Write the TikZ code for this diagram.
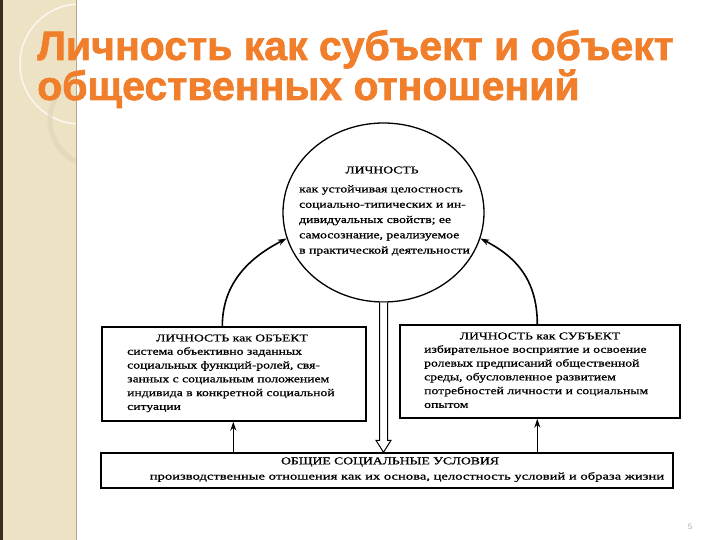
\documentclass[tikz,border=0pt]{standalone}
\usepackage{fontspec}
\usepackage{graphicx}
\setmainfont{Liberation Serif}
\newfontfamily\titlefont{Liberation Sans}[BoldFeatures={FakeBold=1.6}]
\newfontfamily\scan{Liberation Serif}[FakeStretch=1.3,FakeBold=0.9]
\newfontfamily\pagefont{Liberation Sans}
\usetikzlibrary{shapes.geometric,arrows.meta,calc}
\definecolor{titleor}{HTML}{F07E2A}
\definecolor{side}{HTML}{EDE2C3}
\definecolor{sideline}{HTML}{B5A58A}
\definecolor{darkedge}{HTML}{3A2C1E}
\tikzset{
  titletext/.style={font=\titlefont\bfseries\fontsize{41}{44}\selectfont, text=titleor, inner sep=0, anchor=base west},
  box/.style={draw, line width=1.4pt, inner sep=0},
  txt/.style={font=\scan\fontsize{10.5}{13.8}\selectfont, inner sep=0, align=left},
  conn/.style={line width=1.6pt, -{Stealth[length=9pt,width=6pt]}}
}
\begin{document}
\begin{tikzpicture}[x=1pt,y=-1pt]
\useasboundingbox (0,0) rectangle (720,540);
\fill[white] (0,0) rectangle (720,540);
% side band
\fill[side] (0,0) rectangle (76,540);
\begin{scope}
  \clip (0,0) rectangle (76,540);
  \draw[white!75!side, line width=1.5pt] (80,64) circle (60);
  \draw[side!85!gray, line width=5pt, opacity=0.6] (96,120) circle (46);
\end{scope}
\draw[sideline, line width=1pt] (76.5,0) -- (76.5,540);
\fill[darkedge] (0,0) rectangle (2.5,540);
% title
\node[titletext] (t1) at (37,60) {Личность как субъект и объект};
\node[titletext] (t2) at (37,100) {общественных отношений};
% circle
\node[draw, ellipse, line width=1.3pt, minimum width=201pt, minimum height=179pt, inner sep=0] (pers) at (383.5,212.5) {};
\node[txt] (ph) at (382,170) {ЛИЧНОСТЬ};
\node[txt, anchor=north west, font=\scan\fontsize{10.5}{15.3}\selectfont] (pb) at (299,185) {как устойчивая целостность\\социально-типических и ин-\\дивидуальных свойств; ее\\самосознание, реализуемое\\в практической деятельности};
% boxes
\node[box, minimum width=264pt, minimum height=94pt] (obj) at (234,374) {};
\node[box, minimum width=280pt, minimum height=93pt] (subj) at (540,371.5) {};
\node[box, minimum width=572pt, minimum height=35pt] (cond) at (387,470.5) {};
\node[txt] (oh) at (232,338) {ЛИЧНОСТЬ как ОБЪЕКТ};
\node[txt, anchor=north west] (ob) at (127,347) {система объективно заданных\\социальных функций-ролей, свя-\\занных с социальным положением\\индивида в конкретной социальной\\ситуации};
\node[txt] (sh) at (540,336) {ЛИЧНОСТЬ как СУБЪЕКТ};
\node[txt, anchor=north west] (sb) at (424,345) {избирательное восприятие и освоение\\ролевых предписаний общественной\\среды, обусловленное развитием\\потребностей личности и социальным\\опытом};
\node[txt] (ch) at (390,462) {ОБЩИЕ СОЦИАЛЬНЫЕ УСЛОВИЯ};
\node[txt] (cb) at (407,477) {\scalebox{1.07}[1]{производственные отношения как их основа, целостность условий и образа жизни}};
% arcs into the circle
\draw[conn] ($(obj.north west)+(121,0)$) .. controls +(0,-45) and +(-35,18) .. (pers.195);
\draw[conn] ($(subj.north west)+(138,0)$) .. controls +(0,-45) and +(35,18) .. (pers.345);
% up arrows
\coordinate (lup) at ($(cond.north west)+(133,0)$);
\coordinate (rup) at ($(cond.north west)+(437,0)$);
\draw[conn] (lup) -- (lup |- obj.south);
\draw[conn] (rup) -- (rup |- subj.south);
% hollow arrow down
\coordinate (ht) at (pers.south |- cond.north);
\draw[line width=1pt, fill=white] ($(pers.south)+(-4,0)$) -- ($(ht)+(-4,-12)$) -- ($(ht)+(-7.5,-12)$) -- (ht) -- ($(ht)+(7.5,-12)$) -- ($(ht)+(4,-12)$) -- ($(pers.south)+(4,0)$);
% page number
\node[font=\pagefont\fontsize{8}{9}\selectfont, text=gray!60, inner sep=0] (pn) at (690,527) {5};
\end{tikzpicture}
\end{document}
